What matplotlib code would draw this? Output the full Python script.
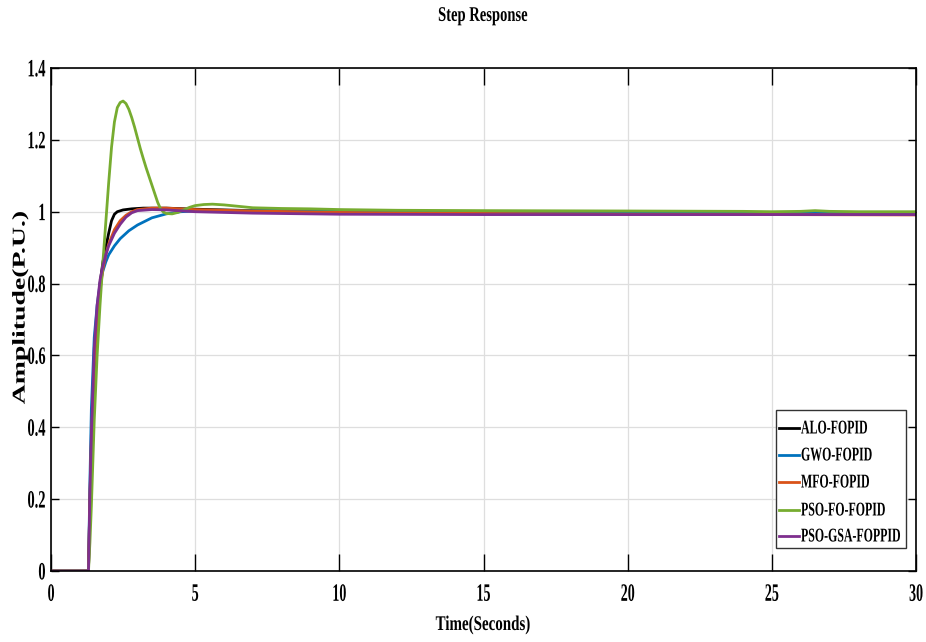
import matplotlib
matplotlib.use("Agg")
import matplotlib.pyplot as plt
from matplotlib.patheffects import AbstractPathEffect
from matplotlib.transforms import Affine2D
from matplotlib.lines import Line2D
from matplotlib.patches import Rectangle

# ---- step response samples (time in s, amplitude in p.u.) ----
alo_t = [0, 1.3, 1.35, 1.4, 1.5, 1.6, 1.7, 1.8, 1.9, 2.0, 2.1, 2.2, 2.3, 2.5, 2.8, 3.2,
         4.0, 5.0, 7.0, 10, 15, 20, 25, 30]
alo_y = [0, 0, 0.20, 0.35, 0.56, 0.70, 0.80, 0.86, 0.90, 0.94, 0.975, 0.993, 1.0, 1.005,
         1.008, 1.010, 1.010, 1.007, 1.003, 1.000, 0.998, 0.996, 0.995, 0.994]

gwo_t = [0, 1.3, 1.35, 1.4, 1.5, 1.6, 1.7, 1.8, 1.9, 2.0, 2.2, 2.4, 2.7, 3.0, 3.5, 4.0,
         4.5, 5.0, 7.0, 10, 15, 20, 25, 30]
gwo_y = [0, 0, 0.25, 0.45, 0.65, 0.74, 0.80, 0.835, 0.86, 0.88, 0.905, 0.925, 0.947,
         0.963, 0.983, 0.994, 1.0, 1.002, 1.003, 1.002, 1.0, 0.998, 0.996, 0.995]

mfo_t = [0, 1.3, 1.35, 1.4, 1.5, 1.6, 1.7, 1.8, 1.9, 2.0, 2.2, 2.4, 2.6, 2.8, 3.0, 3.5,
         4.0, 5.0, 7.0, 10, 15, 20, 25, 30]
mfo_y = [0, 0, 0.20, 0.36, 0.57, 0.70, 0.78, 0.84, 0.88, 0.91, 0.95, 0.975, 0.99, 1.0,
         1.006, 1.010, 1.010, 1.006, 1.002, 0.998, 0.995, 0.993, 0.992, 0.991]

pso_t = [0, 1.3, 1.35, 1.4, 1.5, 1.6, 1.7, 1.8, 1.9, 2.0, 2.1, 2.2, 2.3, 2.4, 2.5, 2.6,
         2.7, 2.8, 2.9, 3.0, 3.1, 3.2, 3.3, 3.4, 3.5, 3.6, 3.7, 3.8, 3.9, 4.0, 4.2, 4.4,
         4.6, 4.8, 5.0, 5.3, 5.6, 6.0, 6.5, 7.0, 8.0, 9.0, 10, 12, 15, 20, 24, 25, 26,
         26.5, 27, 28, 30]
pso_y = [0, 0, 0.08, 0.18, 0.42, 0.60, 0.74, 0.86, 0.97, 1.08, 1.18, 1.25, 1.29, 1.304,
         1.308, 1.301, 1.285, 1.262, 1.235, 1.205, 1.175, 1.148, 1.122, 1.098, 1.074,
         1.050, 1.026, 1.008, 0.999, 0.995, 0.994, 0.998, 1.005, 1.012, 1.017, 1.020,
         1.021, 1.019, 1.015, 1.011, 1.009, 1.008, 1.006, 1.004, 1.003, 1.002, 1.001,
         1.000, 1.001, 1.003, 1.001, 1.0, 1.0]

gsa_t = [0, 1.3, 1.35, 1.4, 1.5, 1.6, 1.7, 1.8, 1.9, 2.0, 2.2, 2.4, 2.6, 2.8, 3.0, 3.5,
         4.0, 5.0, 7.0, 10, 15, 20, 25, 30]
gsa_y = [0, 0, 0.22, 0.38, 0.62, 0.74, 0.81, 0.85, 0.88, 0.905, 0.94, 0.965, 0.985,
         0.997, 1.003, 1.006, 1.005, 1.000, 0.996, 0.993, 0.992, 0.992, 0.992, 0.992]

series_names = ["ALO-FOPID", "GWO-FOPID", "MFO-FOPID", "PSO-FO-FOPID", "PSO-GSA-FOPPID"]
series_colors = ["#000000", "#0072BD", "#D95319", "#77AC30", "#7E2F8E"]
series_data = [(alo_t, alo_y), (gwo_t, gwo_y), (mfo_t, mfo_y), (pso_t, pso_y), (gsa_t, gsa_y)]

x_ticks = [0, 5, 10, 15, 20, 25, 30]
y_ticks = [0, 0.2, 0.4, 0.6, 0.8, 1.0, 1.2, 1.4]
y_tick_labels = ["0", "0.2", "0.4", "0.6", "0.8", "1", "1.2", "1.4"]


class TallText(AbstractPathEffect):
    """Stretch glyph outlines vertically (display y) about an anchor of their box."""

    def __init__(self, sy, anchor="center"):
        super().__init__()
        self.sy = sy
        self.anchor = anchor

    def draw_path(self, renderer, gc, tpath, affine, rgbFace=None):
        bb = tpath.get_extents(affine)
        if self.anchor == "top":
            cy = bb.y1
        elif self.anchor == "bottom":
            cy = bb.y0
        else:
            cy = 0.5 * (bb.y0 + bb.y1)
        aff = affine + Affine2D().translate(0, -cy).scale(1, self.sy).translate(0, cy)
        renderer.draw_path(gc, tpath, aff, rgbFace)


plt.rcParams["font.family"] = ["Liberation Serif", "DejaVu Serif"]

fig = plt.figure(figsize=(9.26, 6.42), dpi=100)
ax = fig.add_axes([51 / 926, 71 / 642, 865 / 926, 503 / 642])

for (t, y), name, col in zip(series_data, series_names, series_colors):
    ax.plot(t, y, color=col, lw=2.0, label=name, solid_joinstyle="round")

ax.set_xlim(0, 30)
ax.set_ylim(0, 1.4)
ax.set_xticks(x_ticks, [str(v) for v in x_ticks])
ax.set_yticks(y_ticks, y_tick_labels)
ax.grid(True, color="#dedede", lw=0.9)
ax.set_axisbelow(True)
for sp in ax.spines.values():
    sp.set_linewidth(1.2)
ax.tick_params(axis="x", direction="in", length=12, width=1.0, top=True, pad=9,
               labelsize=10.1)
ax.tick_params(axis="y", direction="in", length=6, width=1.0, right=True, pad=4,
               labelsize=10.4)

for lbl in ax.get_xticklabels():
    lbl.set_fontweight("bold")
    lbl.set_path_effects([TallText(1 / 0.56, "top")])
for lbl in ax.get_yticklabels():
    lbl.set_fontweight("bold")
    lbl.set_path_effects([TallText(1 / 0.58, "center")])

fig.text(483 / 926, 1 - 16 / 642, "Step Response", ha="center", va="center",
         fontsize=10.5, fontweight="bold", path_effects=[TallText(1 / 0.7)])
fig.text(483 / 926, 1 - 625 / 642, "Time(Seconds)", ha="center", va="center",
         fontsize=10.8, fontweight="bold", path_effects=[TallText(1 / 0.72)])
fig.text(20 / 926, 1 - 308 / 642, "Amplitude(P.U.)", ha="center", va="center",
         rotation=90, fontsize=13, fontweight="bold", path_effects=[TallText(1 / 0.65)])

# legend box drawn in axes fraction coordinates
def ax_fx(px):
    return (px - 51) / 865


def ax_fy(py):
    return (571 - py) / 503


ax.add_patch(Rectangle((ax_fx(776), ax_fy(548)), ax_fx(906) - ax_fx(776),
                       ax_fy(410) - ax_fy(548), transform=ax.transAxes,
                       facecolor="white", edgecolor="#333333", lw=1.0, zorder=5))
entry_y = [428, 455, 482, 510, 536]
for ey, name, col in zip(entry_y, series_names, series_colors):
    ax.add_line(Line2D([ax_fx(779), ax_fx(799)], [ax_fy(ey), ax_fy(ey)],
                       transform=ax.transAxes, color=col, lw=2.0, zorder=6))
    ax.text(ax_fx(801), ax_fy(ey), name, transform=ax.transAxes, ha="left",
            va="center", fontsize=8.55, fontweight="bold", zorder=6,
            path_effects=[TallText(1 / 0.61)])

fig.savefig("out.png", dpi=100)
